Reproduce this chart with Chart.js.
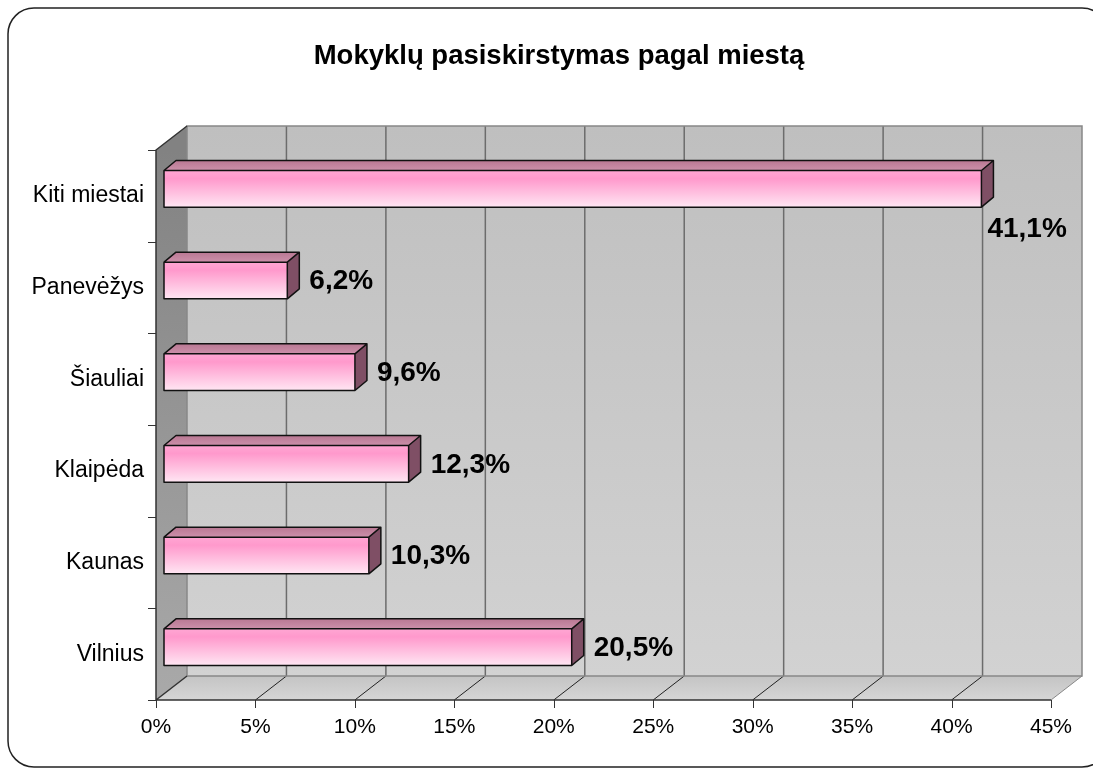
<!DOCTYPE html>
<html>
<head>
<meta charset="utf-8">
<script src="https://cdn.jsdelivr.net/npm/chart.js@4"></script>
<style>
  body { margin: 0; background: #fff; }
  canvas { display: block; }
</style>
</head>
<body>
<canvas id="myChart" width="1093" height="769"></canvas>
<script>
// data
const categories = ["Kiti miestai", "Panevėžys", "Šiauliai", "Klaipėda", "Kaunas", "Vilnius"];
const shares = [41.1, 6.2, 9.6, 12.3, 10.3, 20.5];
const shareLabels = ["41,1%", "6,2%", "9,6%", "12,3%", "10,3%", "20,5%"];
const axisMax = 45;
const axisStep = 5;
const chartTitle = "Mokyklų pasiskirstymas pagal miestą";

const FONT = "'Liberation Sans', Arial, sans-serif";
// depth of the back wall and of the bars (pixels)
const WALL = { dx: 31, dy: -24 };
const BAR = { dx: 8, dy: -7, depthX: 12, depthY: -10 };

const frame3d = {
    id: "frame3d",
    beforeDraw(chart) {
        const ctx = chart.ctx;
        ctx.save();
        ctx.fillStyle = "#fff";
        ctx.fillRect(0, 0, chart.width, chart.height);
        // rounded outer border
        ctx.strokeStyle = "#222";
        ctx.lineWidth = 1.5;
        ctx.beginPath();
        ctx.roundRect(8, 8, 1100, 759, 26);
        ctx.stroke();
        // title
        ctx.fillStyle = "#000";
        ctx.font = "bold 27.5px " + FONT;
        ctx.textAlign = "center";
        ctx.textBaseline = "alphabetic";
        ctx.fillText(chartTitle, 559, 64);
        ctx.restore();
    },
    beforeDatasetsDraw(chart) {
        const ctx = chart.ctx;
        const a = chart.chartArea;
        const xs = chart.scales.x;
        const n = categories.length;
        const L = a.left, R = a.right, T = a.top, B = a.bottom;
        const dx = WALL.dx, dy = WALL.dy;
        ctx.save();

        // back wall
        let g = ctx.createLinearGradient(0, T + dy, 0, B + dy);
        g.addColorStop(0, "#bfbfbf");
        g.addColorStop(1, "#d2d2d2");
        ctx.fillStyle = g;
        ctx.fillRect(L + dx, T + dy, R - L, B - T);

        // left wall
        g = ctx.createLinearGradient(0, T, 0, B);
        g.addColorStop(0, "#828282");
        g.addColorStop(1, "#a9a9a9");
        ctx.fillStyle = g;
        ctx.beginPath();
        ctx.moveTo(L, T);
        ctx.lineTo(L + dx, T + dy);
        ctx.lineTo(L + dx, B + dy);
        ctx.lineTo(L, B);
        ctx.closePath();
        ctx.fill();

        // floor
        g = ctx.createLinearGradient(0, B + dy, 0, B);
        g.addColorStop(0, "#c4c4c4");
        g.addColorStop(1, "#d6d6d6");
        ctx.fillStyle = g;
        ctx.beginPath();
        ctx.moveTo(L, B);
        ctx.lineTo(L + dx, B + dy);
        ctx.lineTo(R + dx, B + dy);
        ctx.lineTo(R, B);
        ctx.closePath();
        ctx.fill();

        // grid lines on the back wall and the floor
        for (let v = 0; v <= axisMax; v += axisStep) {
            const px = xs.getPixelForValue(v);
            if (v > 0 && v < axisMax) {
                ctx.strokeStyle = "#6c6c6c";
                ctx.lineWidth = 1.5;
                ctx.beginPath();
                ctx.moveTo(px + dx, T + dy);
                ctx.lineTo(px + dx, B + dy);
                ctx.stroke();
            }
            if (v > 0) {
                ctx.strokeStyle = v < axisMax ? "#222" : "#888";
                ctx.lineWidth = 1;
                ctx.beginPath();
                ctx.moveTo(px, B);
                ctx.lineTo(px + dx, B + dy);
                ctx.stroke();
            }
        }

        // wall borders
        ctx.strokeStyle = "#888";
        ctx.lineWidth = 1.5;
        ctx.beginPath();
        ctx.moveTo(L + dx, B + dy);
        ctx.lineTo(L + dx, T + dy);
        ctx.lineTo(R + dx, T + dy);
        ctx.lineTo(R + dx, B + dy);
        ctx.lineTo(L + dx, B + dy);
        ctx.stroke();

        // axes
        ctx.strokeStyle = "#333";
        ctx.lineWidth = 1.5;
        ctx.beginPath();
        ctx.moveTo(L + dx, T + dy);
        ctx.lineTo(L, T);
        ctx.lineTo(L, B);
        ctx.lineTo(R, B);
        ctx.moveTo(L, B);
        ctx.lineTo(L + dx, B + dy);
        ctx.stroke();

        // tick marks
        ctx.lineWidth = 1;
        ctx.beginPath();
        for (let i = 0; i <= n; i++) {
            const py = Math.round(T + i * (B - T) / n) + 0.5;
            ctx.moveTo(L - 8, py);
            ctx.lineTo(L, py);
        }
        for (let v = 0; v <= axisMax; v += axisStep) {
            const px = Math.round(xs.getPixelForValue(v)) + 0.5;
            ctx.moveTo(px, B);
            ctx.lineTo(px, B + 8);
        }
        ctx.stroke();
        ctx.restore();
    },
    afterDatasetsDraw(chart) {
        const ctx = chart.ctx;
        const a = chart.chartArea;
        const meta = chart.getDatasetMeta(0);
        ctx.save();
        meta.data.forEach((el, i) => {
            const p = el.getProps(["x", "y", "base", "height"], true);
            const x0 = p.base + BAR.dx;
            const x1 = p.x + BAR.dx;
            const yt = p.y - p.height / 2 + BAR.dy;
            const yb = p.y + p.height / 2 + BAR.dy;
            const ddx = BAR.depthX, ddy = BAR.depthY;

            // front face
            const g = ctx.createLinearGradient(0, yt, 0, yb);
            g.addColorStop(0, "#ffa6d3");
            g.addColorStop(0.22, "#ff99cc");
            g.addColorStop(1, "#ffe6f3");
            ctx.fillStyle = g;
            ctx.fillRect(x0, yt, x1 - x0, yb - yt);

            // top face
            const gt = ctx.createLinearGradient(0, yt + ddy, 0, yt);
            gt.addColorStop(0, "#b97893");
            gt.addColorStop(1, "#cc90aa");
            ctx.fillStyle = gt;
            ctx.beginPath();
            ctx.moveTo(x0, yt);
            ctx.lineTo(x0 + ddx, yt + ddy);
            ctx.lineTo(x1 + ddx, yt + ddy);
            ctx.lineTo(x1, yt);
            ctx.closePath();
            ctx.fill();

            // side face
            ctx.fillStyle = "#7f4f65";
            ctx.beginPath();
            ctx.moveTo(x1, yt);
            ctx.lineTo(x1 + ddx, yt + ddy);
            ctx.lineTo(x1 + ddx, yb + ddy);
            ctx.lineTo(x1, yb);
            ctx.closePath();
            ctx.fill();

            // outlines
            ctx.strokeStyle = "#111";
            ctx.lineWidth = 1.5;
            ctx.lineJoin = "round";
            ctx.beginPath();
            ctx.rect(x0, yt, x1 - x0, yb - yt);
            ctx.moveTo(x0, yt);
            ctx.lineTo(x0 + ddx, yt + ddy);
            ctx.lineTo(x1 + ddx, yt + ddy);
            ctx.lineTo(x1 + ddx, yb + ddy);
            ctx.lineTo(x1, yb);
            ctx.moveTo(x1, yt);
            ctx.lineTo(x1 + ddx, yt + ddy);
            ctx.stroke();

            // value label
            ctx.fillStyle = "#000";
            ctx.font = "bold 28px " + FONT;
            ctx.textBaseline = "middle";
            ctx.textAlign = "left";
            const txt = shareLabels[i];
            const w = ctx.measureText(txt).width;
            let lx = x1 + ddx + 10;
            let ly = (yt + yb) / 2 + 1;
            if (lx + w > a.right) {
                lx = x1 + 6;
                ly = yb + 22;
            }
            ctx.fillText(txt, lx, ly);
        });
        ctx.restore();
    }
};

const ctx = document.getElementById("myChart").getContext("2d");

new Chart(ctx, {
    type: "bar",
    data: {
        labels: categories,
        datasets: [
            {
                label: chartTitle,
                data: shares,
                backgroundColor: "rgba(0,0,0,0)",
                borderWidth: 0,
                categoryPercentage: 0.8,
                barPercentage: 0.5,
            },
        ],
    },
    options: {
        indexAxis: "y",
        responsive: false,
        animation: false,
        layout: {
            padding: { top: 150, right: 42, left: 0, bottom: 0 },
        },
        plugins: {
            legend: { display: false },
            title: { display: false },
            tooltip: { enabled: false },
        },
        scales: {
            x: {
                min: 0,
                max: axisMax,
                grid: { display: false, drawTicks: false },
                border: { display: false },
                ticks: {
                    stepSize: axisStep,
                    padding: 15,
                    color: "#000",
                    font: { family: FONT, size: 21 },
                    maxRotation: 0,
                    callback: (v) => v + "%",
                },
                afterFit: (s) => { s.height = 69; },
            },
            y: {
                grid: { display: false, drawTicks: false },
                border: { display: false },
                ticks: {
                    padding: 12,
                    color: "#000",
                    font: { family: FONT, size: 23 },
                },
                afterFit: (s) => { s.width = 156; },
            },
        },
    },
    plugins: [frame3d],
});
</script>
</body>
</html>
